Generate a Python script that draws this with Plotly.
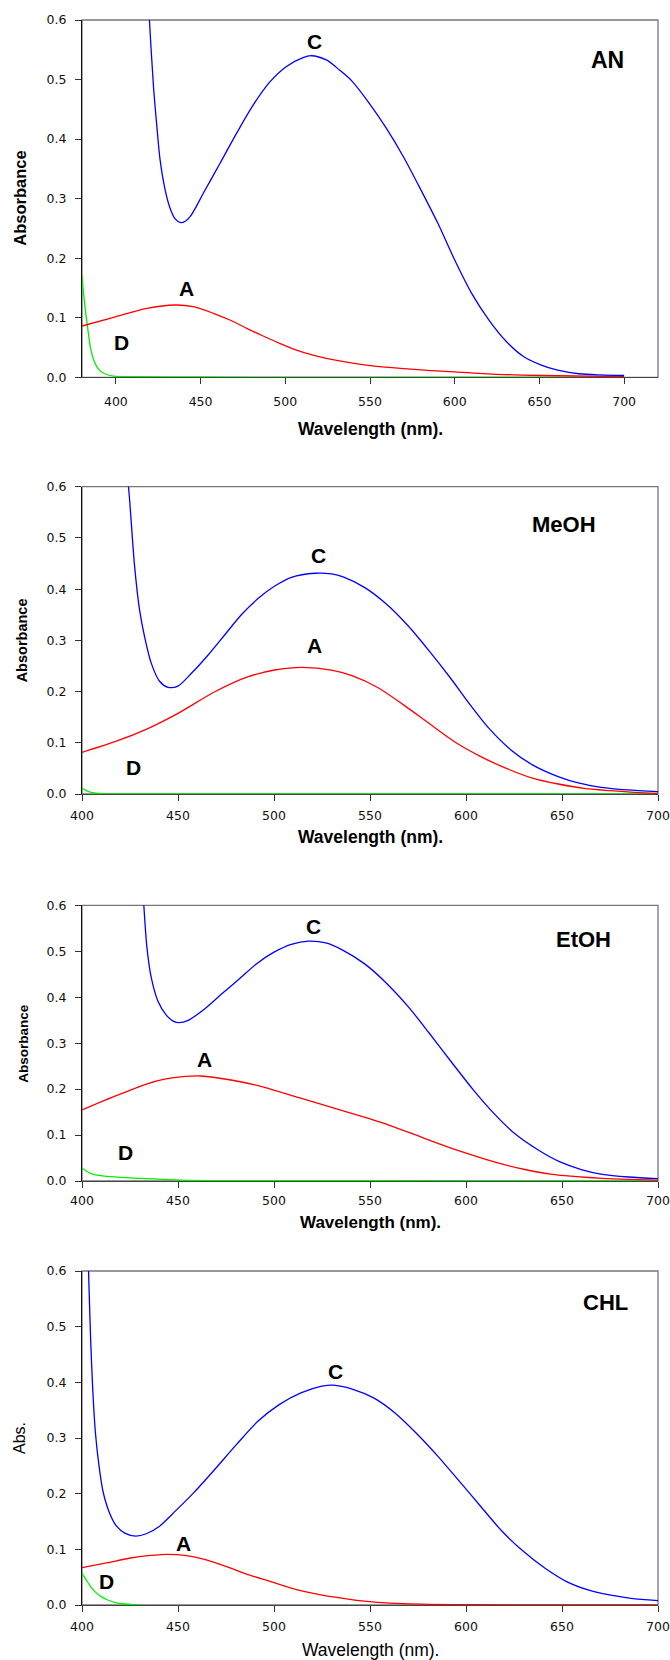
import plotly.graph_objects as go

# ---------------- Data ----------------
# Panel 1: AN
an_c_x = [418, 419.8, 422.2, 424.2, 426.1, 429.1, 432, 435, 438.3, 441, 443.8, 447.5, 451.6, 461.4, 471.3, 481, 490.9, 500.7, 510.5, 515.4, 524.2, 532, 539.5, 549.6, 559.7, 569.8, 580, 590, 600, 610, 620, 630.5, 640.6, 650.7, 660.8, 673.4, 686, 700]
an_c_y = [0.70, 0.60, 0.488, 0.421, 0.365, 0.3145, 0.284, 0.266, 0.2597, 0.262, 0.2697, 0.287, 0.309, 0.359, 0.410, 0.457, 0.496, 0.522, 0.537, 0.540, 0.533, 0.516, 0.497, 0.460, 0.418, 0.370, 0.315, 0.259, 0.197, 0.141, 0.097, 0.060, 0.035, 0.021, 0.012, 0.006, 0.004, 0.003]
an_a_x = [380, 398.7, 418.3, 435, 445.7, 457.5, 467.3, 477.2, 486.9, 496.7, 506.6, 516.3, 532, 550, 572, 600, 625, 651, 700]
an_a_y = [0.0861, 0.1008, 0.1159, 0.1214, 0.1186, 0.1075, 0.0962, 0.0823, 0.0694, 0.0571, 0.0458, 0.0374, 0.0274, 0.0195, 0.014, 0.009, 0.005, 0.003, 0.001]
an_d_x = [380, 381.5, 383, 384.9, 386.9, 389.8, 393.8, 398.7, 410, 450, 500, 600, 700]
an_d_y = [0.170, 0.125, 0.0907, 0.0514, 0.029, 0.0134, 0.0055, 0.002, 0.001, 0.0005, 0.0003, 0.0002, 0.0001]

# Panel 2: MeOH
me_c_x = [422, 424.8, 427.4, 430, 432.6, 436.1, 440.5, 444.8, 450, 457, 465.7, 474.4, 483, 491.8, 500.4, 509.1, 521.3, 530, 536, 547.3, 558.5, 569.7, 580.9, 592, 601, 612, 623.4, 634.6, 648, 659, 670.4, 683.9, 700]
me_c_y = [0.70, 0.574, 0.4445, 0.359, 0.307, 0.255, 0.2196, 0.2083, 0.2108, 0.2356, 0.2714, 0.311, 0.350, 0.382, 0.406, 0.423, 0.431, 0.4296, 0.424, 0.403, 0.371, 0.329, 0.279, 0.226, 0.180, 0.128, 0.086, 0.057, 0.034, 0.021, 0.013, 0.008, 0.0046]
me_a_x = [400, 417.2, 434.6, 450, 469.2, 486.6, 500.4, 514.4, 530, 540.6, 554, 567.5, 581, 594, 607.7, 621, 634.6, 648, 661.5, 675, 688, 700]
me_a_y = [0.0814, 0.1021, 0.1283, 0.1575, 0.1997, 0.229, 0.2421, 0.2473, 0.2420, 0.231, 0.208, 0.174, 0.137, 0.102, 0.073, 0.050, 0.031, 0.0195, 0.011, 0.0065, 0.003, 0.0013]
me_d_x = [400, 402.5, 405.2, 410.4, 450, 500, 600, 700]
me_d_y = [0.011, 0.006, 0.0026, 0.0005, 0.0002, 0.0001, 0.0001, 0.0001]

# Panel 3: EtOH
et_c_x = [431, 432.2, 433.8, 436, 439.4, 443.9, 447.5, 450.6, 455, 464, 473, 482, 491, 500, 509, 518, 527, 536, 547.4, 558.7, 570, 581, 592.4, 603.7, 615, 626, 637.4, 648.7, 660, 671, 684.7, 700]
et_c_y = [0.70, 0.60, 0.509, 0.444, 0.393, 0.361, 0.348, 0.3445, 0.349, 0.375, 0.408, 0.440, 0.473, 0.498, 0.515, 0.522, 0.518, 0.502, 0.472, 0.430, 0.379, 0.321, 0.259, 0.199, 0.145, 0.101, 0.068, 0.042, 0.025, 0.0145, 0.0087, 0.005]
et_a_x = [400, 416.5, 434, 443, 451.4, 461.9, 477.6, 495, 512.6, 530, 547.5, 556.2, 572, 590, 603.7, 617, 630.7, 644, 657.7, 671, 684.7, 700]
et_a_y = [0.1545, 0.1835, 0.2115, 0.2215, 0.2265, 0.2285, 0.2198, 0.204, 0.182, 0.160, 0.1386, 0.127, 0.103, 0.075, 0.056, 0.039, 0.025, 0.015, 0.0094, 0.0058, 0.0036, 0.002]
et_d_x = [400, 404.3, 409.5, 420, 434, 451.4, 470, 500, 600, 700]
et_d_y = [0.0276, 0.0168, 0.0116, 0.008, 0.005, 0.002, 0.001, 0.0008, 0.0004, 0.0003]

# Panel 4: CHL
ch_c_x = [402.5, 403.4, 404.5, 405.6, 407, 408.9, 411, 414.5, 417.9, 422.3, 428, 433.5, 440.2, 449, 458, 469, 480.4, 491.6, 502.7, 514, 525, 530.7, 540.7, 551.9, 563, 574, 585.4, 596.6, 607.7, 618.9, 630, 641.2, 652.4, 663.6, 674.7, 685.9, 700]
ch_c_y = [0.70, 0.60, 0.477, 0.387, 0.309, 0.249, 0.203, 0.164, 0.142, 0.129, 0.1236, 0.128, 0.141, 0.170, 0.201, 0.243, 0.288, 0.330, 0.360, 0.381, 0.393, 0.395, 0.388, 0.372, 0.345, 0.309, 0.267, 0.222, 0.177, 0.132, 0.096, 0.066, 0.042, 0.027, 0.018, 0.012, 0.008]
ch_a_x = [400, 413.4, 424.6, 435.7, 444.7, 453.6, 464.8, 476, 487, 498.3, 509.4, 520.6, 531.8, 543, 554, 567.5, 581, 600, 650, 700]
ch_a_y = [0.067, 0.076, 0.084, 0.089, 0.091, 0.089, 0.081, 0.068, 0.054, 0.042, 0.030, 0.021, 0.014, 0.0084, 0.0048, 0.0024, 0.0012, 0.0006, 0.0002, 0.0001]
ch_d_x = [400, 402.2, 404.5, 406.7, 410, 413.4, 418, 422.3, 426.8, 430]
ch_d_y = [0.057, 0.045, 0.033, 0.024, 0.015, 0.009, 0.004, 0.0018, 0.0006, 0.0002]

x_tick_vals = [400, 450, 500, 550, 600, 650, 700]
y_tick_vals = [0.0, 0.1, 0.2, 0.3, 0.4, 0.5, 0.6]
y_tick_text = ["0.0", "0.1", "0.2", "0.3", "0.4", "0.5", "0.6"]

panels = [
    dict(name="AN", c=(an_c_x, an_c_y), a=(an_a_x, an_a_y), d=(an_d_x, an_d_y), xr=[380, 720],
         ytitle="Absorbance", bold=True, ysize=16.5, xsize=17.5, xstand=7,
         labels=[("C", 517.3, 0.5636), ("A", 441.8, 0.149), ("D", 403.2, 0.058)], solvent=(690, 0.532)),
    dict(name="MeOH", c=(me_c_x, me_c_y), a=(me_a_x, me_a_y), d=(me_d_x, me_d_y), xr=[400, 700],
         ytitle="Absorbance", bold=True, ysize=14.5, xsize=17.5, xstand=4,
         labels=[("C", 523, 0.465), ("A", 521.3, 0.289), ("D", 426.6, 0.051)], solvent=(651, 0.526)),
    dict(name="EtOH", c=(et_c_x, et_c_y), a=(et_a_x, et_a_y), d=(et_d_x, et_d_y), xr=[400, 700],
         ytitle="Absorbance", bold=True, ysize=13.5, xsize=17, xstand=2,
         labels=[("C", 520.4, 0.554), ("A", 464, 0.265), ("D", 422.6, 0.0616)], solvent=(661, 0.525)),
    dict(name="CHL", c=(ch_c_x, ch_c_y), a=(ch_a_x, ch_a_y), d=(ch_d_x, ch_d_y), xr=[400, 700],
         ytitle="Abs.", bold=False, ysize=16, xsize=17.5, xstand=4,
         labels=[("C", 531.8, 0.420), ("A", 453, 0.111), ("D", 412.7, 0.042)], solvent=(672.5, 0.544)),
]

W, H = 670, 1660
px_y = [(20, 377.3), (486.7, 794), (905.3, 1181), (1271, 1605)]
px_x = (82, 658)
ytitle_x = [20, 22, 23.5, 19]
xtitle_y = [428.6, 837, 1222, 1650]

fig = go.Figure()
FONT = "Liberation Sans, Arial, sans-serif"
TFONT = "DejaVu Sans, sans-serif"
annotations = []
shapes = []

for i, p in enumerate(panels):
    k = "" if i == 0 else str(i + 1)
    xa, ya = "x" + k, "y" + k
    for (xs, ys), col in [(p["d"], "#00EE00"), (p["a"], "#FF0000"), (p["c"], "#0000FF")]:
        fig.add_trace(go.Scatter(x=xs, y=ys, mode="lines", xaxis=xa, yaxis=ya,
                                 line=dict(color=col, width=1.3, shape="spline", smoothing=0.8),
                                 showlegend=False, hoverinfo="skip"))
    top, bot = px_y[i]
    dom_y = [1 - bot / H, 1 - top / H]
    dom_x = [px_x[0] / W, px_x[1] / W]
    tsize = 12.5
    fig.update_layout(**{
        "xaxis" + k: dict(domain=dom_x, range=p["xr"], anchor=ya, tickvals=x_tick_vals,
                          ticks="outside", ticklen=6, tickwidth=1, tickcolor="#333",
                          ticklabelstandoff=p["xstand"], automargin=False,
                          showline=True, linecolor="#444", linewidth=1.3, showgrid=False,
                          zeroline=False, tickfont=dict(family=TFONT, size=tsize, color="#111")),
        "yaxis" + k: dict(domain=dom_y, range=[0, 0.6], anchor=xa, tickvals=y_tick_vals,
                          ticktext=y_tick_text, ticks="outside", ticklen=6, tickwidth=1,
                          ticklabelstandoff=6, automargin=False,
                          tickcolor="#333", showline=True, linecolor="#111", linewidth=1.3,
                          showgrid=False, zeroline=False,
                          tickfont=dict(family=TFONT, size=tsize, color="#111")),
    })
    # frame (top & right lines in grey)
    shapes.append(dict(type="rect", xref=xa + " domain", yref=ya + " domain", x0=0, x1=1, y0=0, y1=1,
                       line=dict(color="#777", width=1.3), layer="below"))
    # curve labels
    for txt, lx, ly in p["labels"]:
        annotations.append(dict(text="<b>%s</b>" % txt, x=lx, y=ly, xref=xa, yref=ya, showarrow=False,
                                xanchor="center", yanchor="middle",
                                font=dict(family=FONT, size=21, color="black")))
    annotations.append(dict(text="<b>%s</b>" % p["name"], x=p["solvent"][0], y=p["solvent"][1],
                            xref=xa, yref=ya, showarrow=False, xanchor="center", yanchor="middle",
                            font=dict(family=FONT, size=23 if i == 0 else 22, color="black")))
    # axis titles
    yt = "<b>%s</b>" % p["ytitle"] if p["bold"] else p["ytitle"]
    annotations.append(dict(text=yt, x=ytitle_x[i] / W, y=1 - (top + bot) / 2 / H, xref="paper",
                            yref="paper", showarrow=False, textangle=-90,
                            xanchor="center", yanchor="middle",
                            font=dict(family=FONT, size=p["ysize"], color="black")))
    xt = "<b>Wavelength (nm).</b>" if p["bold"] else "Wavelength (nm)."
    annotations.append(dict(text=xt, x=(px_x[0] + px_x[1]) / 2 / W, y=1 - xtitle_y[i] / H,
                            xref="paper", yref="paper", showarrow=False,
                            xanchor="center", yanchor="middle",
                            font=dict(family=FONT, size=p["xsize"], color="black")))

fig.update_layout(width=W, height=H, margin=dict(l=0, r=0, t=0, b=0, autoexpand=False),
                  paper_bgcolor="white", plot_bgcolor="white",
                  annotations=annotations, shapes=shapes, showlegend=False)

fig.write_html("out.html", config={"displayModeBar": False},
               post_script="document.body.style.margin='0';document.body.style.overflow='hidden';")
